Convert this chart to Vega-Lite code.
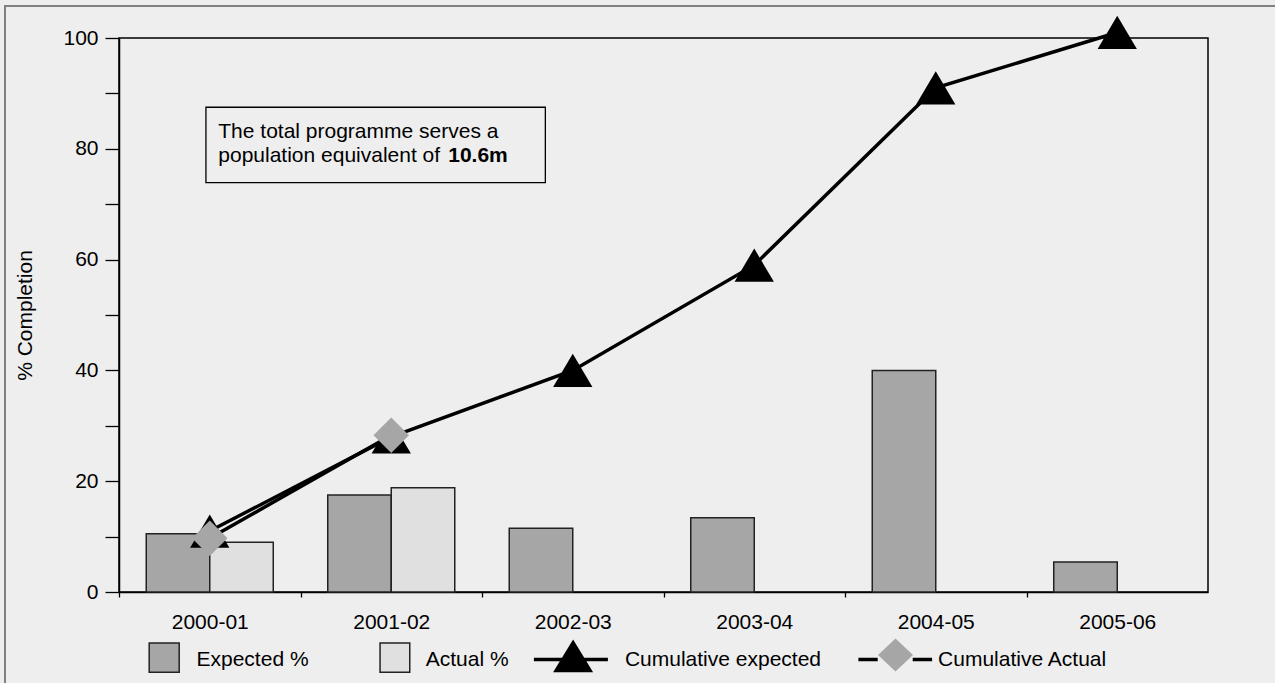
{
  "$schema": "https://vega.github.io/schema/vega-lite/v6.json",
  "width": 1089,
  "height": 554,
  "autosize": {"type": "none"},
  "padding": {"left": 119, "top": 38, "right": 67, "bottom": 91},
  "background": "#eeeeee",
  "config": {
    "font": "Liberation Sans",
    "view": {"stroke": "#000000", "strokeWidth": 1.5},
    "axis": {
      "labelFont": "Liberation Sans",
      "labelFontSize": 21,
      "labelColor": "#000000",
      "domainColor": "#000000",
      "domainWidth": 1.5,
      "tickColor": "#000000",
      "tickWidth": 1.3,
      "grid": false,
      "titleFont": "Liberation Sans",
      "titleFontSize": 21,
      "titleFontWeight": "normal",
      "titleColor": "#000000"
    },
    "legend": {
      "labelFont": "Liberation Sans",
      "labelFontSize": 21,
      "labelColor": "#000000",
      "labelLimit": 400
    }
  },
  "resolve": {
    "scale": {"x": "independent", "y": "independent", "fill": "independent", "shape": "independent", "stroke": "independent"}
  },
  "layer": [
    {
      "data": {"values": [{}]},
      "mark": {"type": "rect", "fill": "transparent", "stroke": "#808080", "strokeWidth": 2},
      "encoding": {
        "x": {"datum": 0, "type": "quantitative", "scale": {"domain": [0, 1], "range": [-114, 1200], "nice": false, "zero": false}, "axis": null},
        "x2": {"datum": 1},
        "y": {"datum": 0, "type": "quantitative", "scale": {"domain": [0, 1], "range": [-32, 700], "nice": false, "zero": false}, "axis": null},
        "y2": {"datum": 1}
      }
    },
    {
      "layer": [
        {
          "data": {
            "values": [
              {"period": "2000-01", "series": "Expected %", "value": 10.5},
              {"period": "2000-01", "series": "Actual %", "value": 9.0},
              {"period": "2001-02", "series": "Expected %", "value": 17.5},
              {"period": "2001-02", "series": "Actual %", "value": 18.8},
              {"period": "2002-03", "series": "Expected %", "value": 11.5},
              {"period": "2003-04", "series": "Expected %", "value": 13.4},
              {"period": "2004-05", "series": "Expected %", "value": 40},
              {"period": "2005-06", "series": "Expected %", "value": 5.4}
            ]
          },
          "mark": {"type": "bar", "stroke": "#222222", "strokeWidth": 1.5},
          "encoding": {
            "x": {
              "field": "period",
              "type": "nominal",
              "scale": {"paddingInner": 0, "paddingOuter": 0},
              "axis": {
                "title": null,
                "labelAngle": 0,
                "tickSize": 5,
                "labelPadding": 14,
                "tickOffset": -90.75,
                "labelOffset": 90.75,
                "encode": {
                  "ticks": {
                    "y": {"value": -11},
                    "y2": {"value": 5},
                    "opacity": {"value": {"signal": "datum.value === '2000-01' ? 0 : 1"}}
                  }
                }
              }
            },
            "xOffset": {
              "field": "series",
              "type": "nominal",
              "scale": {"domain": ["Expected %", "Actual %"], "paddingInner": 0, "paddingOuter": 0.429}
            },
            "y": {
              "field": "value",
              "type": "quantitative",
              "scale": {"domain": [0, 100], "nice": false},
              "axis": {
                "title": "% Completion",
                "values": [0, 10, 20, 30, 40, 50, 60, 70, 80, 90, 100],
                "labelExpr": "datum.value % 20 === 0 ? datum.label : ''",
                "labelOverlap": false,
                "tickSize": 14,
                "labelPadding": 7,
                "titlePadding": 27,
                "encode": {
                  "ticks": {
                    "x2": {"value": {"signal": "datum.value % 20 === 0 ? -14 : -7"}}
                  }
                }
              }
            },
            "fill": {
              "field": "series",
              "type": "nominal",
              "scale": {
                "domain": ["Expected %", "Actual %", "Cumulative expected", "Cumulative Actual"],
                "range": ["#a6a6a6", "#e0e0e0", "#000000", "#a6a6a6"]
              },
              "legend": null
            }
          }
        },
        {
          "data": {
            "values": [
              {"period": "2000-01", "series": "Cumulative expected", "value": 11},
              {"period": "2001-02", "series": "Cumulative expected", "value": 28},
              {"period": "2002-03", "series": "Cumulative expected", "value": 40},
              {"period": "2003-04", "series": "Cumulative expected", "value": 59},
              {"period": "2004-05", "series": "Cumulative expected", "value": 91},
              {"period": "2005-06", "series": "Cumulative expected", "value": 101},
              {"period": "2000-01", "series": "Cumulative Actual", "value": 9.7},
              {"period": "2001-02", "series": "Cumulative Actual", "value": 28.3}
            ]
          },
          "layer": [
            {
              "mark": {"type": "line", "color": "#000000", "strokeWidth": 3.5},
              "encoding": {
                "x": {"field": "period", "type": "nominal"},
                "y": {"field": "value", "type": "quantitative"},
                "detail": {"field": "series", "type": "nominal"}
              }
            },
            {
              "mark": {"type": "point", "filled": true, "size": 1260, "opacity": 1, "strokeWidth": 0},
              "encoding": {
                "x": {"field": "period", "type": "nominal"},
                "y": {"field": "value", "type": "quantitative"},
                "fill": {"field": "series", "type": "nominal", "legend": null},
                "shape": {
                  "field": "series",
                  "type": "nominal",
                  "scale": {
                    "domain": ["Cumulative expected", "Cumulative Actual"],
                    "range": ["M0,-0.938L1.107,0.938L-1.107,0.938Z", "M0,-1L1,0L0,1L-1,0Z"]
                  },
                  "legend": null
                }
              }
            }
          ]
        }
      ]
    },
    {
      "data": {"values": [{}]},
      "layer": [
        {
          "mark": {"type": "rect", "fill": "transparent", "stroke": "#000000", "strokeWidth": 1.3},
          "encoding": {
            "x": {"datum": 0.479, "type": "quantitative", "scale": {"domain": [0, 6], "nice": false}, "axis": null},
            "x2": {"datum": 2.349},
            "y": {"datum": 87.5, "type": "quantitative", "scale": {"domain": [0, 100], "nice": false}, "axis": null},
            "y2": {"datum": 73.9}
          }
        },
        {
          "mark": {"type": "text", "align": "left", "baseline": "alphabetic", "fontSize": 21, "lineHeight": 23.4, "color": "#000000", "text": ["The total programme serves a", "population equivalent of"]},
          "encoding": {
            "x": {"datum": 0.547, "type": "quantitative"},
            "y": {"datum": 81.9, "type": "quantitative"}
          }
        },
        {
          "mark": {"type": "text", "align": "left", "baseline": "alphabetic", "fontSize": 21, "fontWeight": "bold", "color": "#000000", "text": "10.6m"},
          "encoding": {
            "x": {"datum": 1.814, "type": "quantitative"},
            "y": {"datum": 77.67, "type": "quantitative"}
          }
        }
      ]
    },
    {
      "data": {
        "values": [
          {"key": "Expected %"},
          {"key": "Actual %"},
          {"key": "Cumulative expected"},
          {"key": "Cumulative Actual"}
        ]
      },
      "mark": {"type": "point", "filled": true, "opacity": 0},
      "encoding": {
        "shape": {
          "field": "key",
          "type": "nominal",
          "scale": {
            "domain": ["Expected %", "Actual %", "Cumulative expected", "Cumulative Actual"],
            "range": [
              "M-1,-0.5M1,0.5M0.074,-0.34H0.674V0.244H0.074Z",
              "M-1,-0.5M1,0.5M0.107,-0.34H0.701V0.244H0.107Z",
              "M-1,-0.5M1,0.5M-0.8,-0.046H0.68V0.026H-0.8Z M-0.016,-0.41L0.384,0.244L-0.416,0.244Z",
              "M-1,-0.5M1,0.5M-0.574,-0.046H-0.188V0.026H-0.574Z M0.512,-0.046H0.9V0.026H0.512Z"
            ]
          },
          "legend": {
            "title": null,
            "orient": "none",
            "legendX": -24.5,
            "legendY": 571,
            "direction": "horizontal",
            "symbolSize": 10000,
            "symbolStrokeWidth": 1.5,
            "symbolOpacity": 1,
            "columnPadding": 12.2,
            "labelOffset": 0,
            "labelLimit": 400,
            "padding": 0
          }
        },
        "fill": {
          "field": "key",
          "type": "nominal",
          "scale": {
            "domain": ["Expected %", "Actual %", "Cumulative expected", "Cumulative Actual"],
            "range": ["#a6a6a6", "#e0e0e0", "#000000", "#000000"]
          }
        },
        "stroke": {
          "field": "key",
          "type": "nominal",
          "scale": {
            "domain": ["Expected %", "Actual %", "Cumulative expected", "Cumulative Actual"],
            "range": ["#222222", "#222222", "transparent", "transparent"]
          }
        }
      }
    },
    {
      "data": {"values": [{"key": "Cumulative Actual"}]},
      "mark": {"type": "point", "filled": true, "opacity": 0},
      "encoding": {
        "shape": {
          "field": "key",
          "type": "nominal",
          "scale": {"domain": ["Cumulative Actual"], "range": ["M0,-0.943L1,0L0,0.943L-1,0Z"]},
          "legend": {
            "title": null,
            "orient": "none",
            "legendX": 759,
            "legendY": 599.5,
            "symbolSize": 1225,
            "symbolStrokeWidth": 0,
            "symbolOpacity": 1,
            "labelExpr": "''",
            "padding": 0
          }
        },
        "fill": {
          "field": "key",
          "type": "nominal",
          "scale": {"domain": ["Cumulative Actual"], "range": ["#a6a6a6"]}
        }
      }
    }
  ]
}
